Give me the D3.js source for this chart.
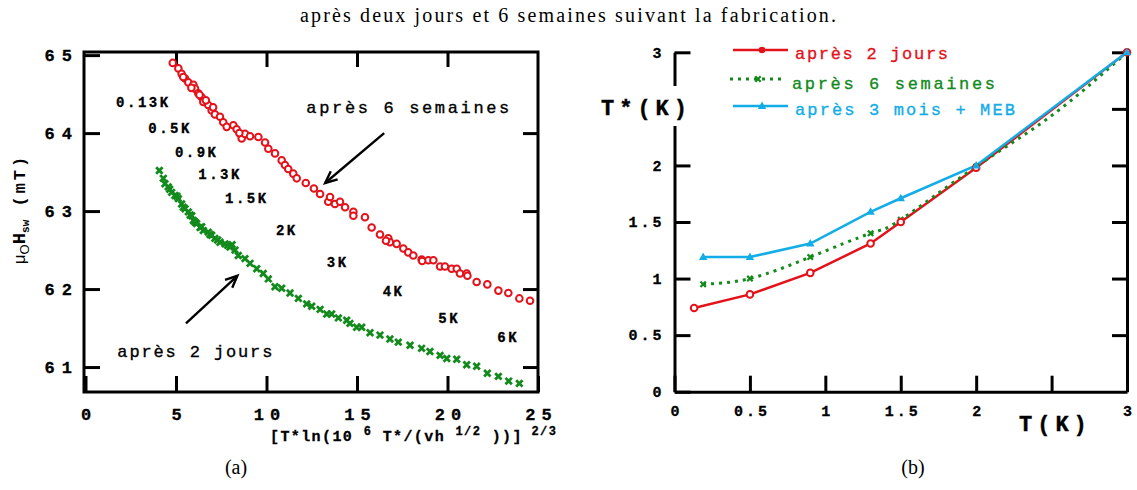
<!DOCTYPE html>
<html>
<head>
<meta charset="utf-8">
<script src="https://cdn.jsdelivr.net/npm/d3@7"></script>
<style>
  body { margin: 0; background: #fff; }
  svg { display: block; }
</style>
</head>
<body>
<svg id="fig" width="1137" height="490"></svg>
<script>
// ---------- Panel (a): switching field vs scaled temperature ----------
const sixWeeksX = [4.82, 5.13, 5.31, 5.50, 5.68, 5.96, 6.05, 6.23, 6.42, 6.51, 6.78, 6.97, 7.15, 7.43, 7.61, 7.80,
  8.17, 8.35, 8.63, 8.63, 8.81, 9.09, 9.55, 9.92, 10.10, 10.47, 10.84, 11.02, 11.20, 11.48, 11.67, 12.17, 12.62,
  12.96, 13.41, 13.51, 13.78, 14.06, 14.34, 14.80, 14.80, 15.44, 15.81, 16.27, 16.73, 16.82, 17.19, 17.56, 17.83,
  18.11, 18.57, 18.94, 19.22, 19.59, 19.86, 20.23, 20.51, 20.69, 21.06, 21.61, 22.20, 22.81, 23.36, 23.97, 24.56,
  5.40, 5.85, 6.30, 6.65, 7.05, 8.50, 16.60, 18.60, 21.10];
const sixWeeksY = [64.90, 64.83, 64.76, 64.70, 64.65, 64.62, 64.57, 64.51, 64.46, 64.40, 64.36, 64.29, 64.24, 64.21, 64.14, 64.08,
  64.10, 64.05, 63.97, 63.93, 63.99, 63.96, 63.95, 63.88, 63.80, 63.74, 63.65, 63.59, 63.54, 63.48, 63.42, 63.36, 63.29,
  63.22, 63.12, 63.18, 63.09, 63.12, 63.05, 62.99, 62.94, 62.92, 62.79, 62.70, 62.65, 62.60, 62.58, 62.52, 62.47,
  62.43, 62.38, 62.37, 62.37, 62.29, 62.29, 62.26, 62.26, 62.20, 62.20, 62.09, 62.06, 61.98, 61.95, 61.88, 61.85,
  64.72, 64.58, 64.49, 64.42, 64.33, 64.00, 62.62, 62.36, 62.17];

const twoDaysX = [4.08, 4.30, 4.39, 4.57, 4.76, 4.94, 5.13, 5.31, 5.50, 5.68, 5.87, 5.96, 6.14, 6.33, 6.51, 6.78, 6.97,
  7.15, 7.43, 7.71, 7.98, 8.26, 8.44, 8.81, 9.09, 9.46, 9.82, 10.10, 10.47, 10.84, 11.30, 11.76, 12.22, 12.50, 12.96,
  13.33, 13.60, 13.97, 14.43, 14.61, 14.98, 15.26, 15.72, 16.27, 16.82, 17.28, 17.93, 18.57, 19.03, 19.59, 19.96,
  20.51, 21.06, 21.61, 22.20, 22.81, 23.38, 23.97,
  4.65, 5.05, 5.40, 5.78, 6.05, 6.42, 6.88, 7.30, 7.85, 8.10];
const twoDaysY = [63.52, 63.42, 63.35, 63.31, 63.24, 63.20, 63.16, 63.09, 63.03, 62.99, 62.94, 62.88, 62.84, 62.79, 62.75, 62.73, 62.69,
  62.65, 62.60, 62.58, 62.54, 62.50, 62.43, 62.39, 62.33, 62.26, 62.20, 62.13, 62.03, 62.01, 61.95, 61.88, 61.81, 61.78, 61.74,
  61.68, 61.68, 61.63, 61.60, 61.56, 61.51, 61.51, 61.44, 61.41, 61.36, 61.32, 61.28, 61.24, 61.20, 61.15, 61.11,
  61.10, 61.03, 61.01, 60.92, 60.88, 60.82, 60.79,
  63.28, 63.19, 63.05, 62.95, 62.86, 62.80, 62.70, 62.63, 62.56, 62.57];

const tempLabels = ["0.13K", "0.5K", "0.9K", "1.3K", "1.5K", "2K", "3K", "4K", "5K", "6K"];
const tempLabelX = [1.69, 3.47, 4.94, 6.23, 7.71, 10.52, 13.33, 16.42, 19.49, 22.75];
const tempLabelY = [64.40, 64.06, 63.75, 63.47, 63.17, 62.76, 62.35, 61.97, 61.63, 61.39];

const aTicksX = [0, 5, 10, 15, 20, 25];
const aTicksY = [61, 62, 63, 64, 65];

// ---------- Panel (b): T* vs T ----------
const bNames = ["après 2 jours", "après 6 semaines", "après 3 mois + MEB"];
const bTwoDaysT = [0.13, 0.5, 0.9, 1.3, 1.5, 2, 3];
const bTwoDaysTs = [0.74, 0.86, 1.05, 1.31, 1.50, 1.98, 3];
const bSixWeeksT = [0.19, 0.5, 0.9, 1.3, 1.5, 2, 2.5, 3];
const bSixWeeksTs = [0.95, 1.00, 1.19, 1.40, 1.52, 1.99, 2.44, 3];
const bSixWeeksMarked = [true, true, true, true, true, true, false, true];
const bThreeMonthsT = [0.19, 0.5, 0.9, 1.3, 1.5, 2, 3];
const bThreeMonthsTs = [1.19, 1.19, 1.31, 1.59, 1.71, 2.00, 3];
const bTicks = [0, 0.5, 1, 1.5, 2, 2.5, 3];

// ---------- drawing ----------
const RED = "#e3121b", GREEN = "#138a1c", BLUE = "#12ade6";
const MONO = "'Liberation Mono', 'DejaVu Sans Mono', monospace";
const SERIF = "'Liberation Serif', 'Times New Roman', serif";

const svg = d3.select("#fig");

svg.append("text")
  .attr("x", 568).attr("y", 22)
  .attr("text-anchor", "middle")
  .attr("font-family", SERIF).attr("font-size", 20)
  .attr("textLength", 536).attr("lengthAdjust", "spacing")
  .text("après deux jours et 6 semaines suivant la fabrication.");

function styleAxis(g, fontSize, spacing) {
  g.selectAll(".tick line").attr("stroke", "#000").attr("stroke-width", 3);
  g.selectAll(".domain").attr("stroke", "#000").attr("stroke-width", 3);
  g.selectAll(".tick text")
    .attr("fill", "#000")
    .attr("font-family", MONO).attr("font-weight", "bold")
    .attr("font-size", fontSize)
    .attr("stroke", "#000").attr("stroke-width", 0.3)
    .style("letter-spacing", spacing + "px");
}

// ----- panel (a) -----
const xA = d3.scaleLinear().domain([0, 25]).range([85.5, 538]);
const yA = d3.scaleLinear().domain([60.68, 65.04]).range([392, 52]);
const gA = svg.append("g");

gA.append("rect")
  .attr("x", 84).attr("y", yA(65.04)).attr("width", 538 - 84).attr("height", yA(60.68) - yA(65.04))
  .attr("fill", "none").attr("stroke", "#000").attr("stroke-width", 3);

gA.append("g").attr("transform", `translate(0,${yA(60.68)})`)
  .call(d3.axisBottom(xA).tickValues(aTicksX).tickSizeInner(-16).tickSizeOuter(0).tickPadding(16).tickFormat(d3.format("d")))
  .call(g => g.select(".domain").remove())
  .call(g => styleAxis(g, 17, 6))
  .call(g => g.selectAll(".tick text").attr("dx", 3));

gA.append("g").attr("transform", `translate(0,${yA(65.04)})`)
  .call(d3.axisTop(xA).tickValues(aTicksX.slice(1, -1)).tickSizeInner(-15).tickSizeOuter(0).tickFormat(""))
  .call(g => g.select(".domain").remove())
  .call(g => styleAxis(g, 17, 6));

gA.append("g").attr("transform", "translate(84,0)")
  .call(d3.axisLeft(yA).tickValues(aTicksY).tickSizeInner(-16).tickSizeOuter(0).tickPadding(5).tickFormat(d3.format("d")))
  .call(g => g.select(".domain").remove())
  .call(g => styleAxis(g, 17, 7));

gA.append("g").attr("transform", "translate(538,0)")
  .call(d3.axisRight(yA).tickValues(aTicksY.slice(0, -1)).tickSizeInner(-15).tickSizeOuter(0).tickFormat(""))
  .call(g => g.select(".domain").remove())
  .call(g => styleAxis(g, 17, 6));

// measured points
const crossPath = "M-3.2,-3.2L3.2,3.2M-3.2,3.2L3.2,-3.2";
gA.append("g").selectAll("path").data(d3.range(twoDaysX.length)).join("path")
  .attr("transform", i => `translate(${xA(twoDaysX[i])},${yA(twoDaysY[i])})`)
  .attr("d", crossPath)
  .attr("stroke", GREEN).attr("stroke-width", 2.8).attr("fill", "none");

gA.append("g").selectAll("circle").data(d3.range(sixWeeksX.length)).join("circle")
  .attr("cx", i => xA(sixWeeksX[i])).attr("cy", i => yA(sixWeeksY[i]))
  .attr("r", 3.3).attr("fill", "#fff").attr("stroke", RED).attr("stroke-width", 2);

// temperature annotations
gA.append("g").selectAll("text").data(tempLabels).join("text")
  .attr("x", (d, i) => xA(tempLabelX[i])).attr("y", (d, i) => yA(tempLabelY[i]))
  .attr("dy", "0.35em")
  .attr("font-family", MONO).attr("font-weight", "bold").attr("font-size", 14)
  .attr("stroke", "#000").attr("stroke-width", 0.3)
  .style("letter-spacing", "2.5px")
  .text(d => d);

// series annotations with arrows
function arrow(g, x1, y1, x2, y2) {
  g.append("line").attr("x1", x1).attr("y1", y1).attr("x2", x2).attr("y2", y2)
    .attr("stroke", "#000").attr("stroke-width", 2.4);
  const a = Math.atan2(y2 - y1, x2 - x1), L = 13, w = 0.42;
  const p1 = [x2 - L * Math.cos(a - w), y2 - L * Math.sin(a - w)];
  const p2 = [x2 - L * Math.cos(a + w), y2 - L * Math.sin(a + w)];
  g.append("path").attr("d", `M${p1}L${x2},${y2}L${p2}`)
    .attr("fill", "none").attr("stroke", "#000").attr("stroke-width", 2.4);
}

gA.append("text")
  .attr("x", xA(12.2)).attr("y", yA(64.33)).attr("dy", "0.35em")
  .attr("font-family", MONO).attr("font-size", 17)
  .attr("stroke", "#000").attr("stroke-width", 0.35)
  .attr("textLength", 203).attr("lengthAdjust", "spacing")
  .text(bNames[1]);
arrow(gA, xA(16.5), yA(64.0), xA(13.24), yA(63.36));

gA.append("text")
  .attr("x", xA(1.76)).attr("y", yA(61.21)).attr("dy", "0.35em")
  .attr("font-family", MONO).attr("font-size", 17)
  .attr("stroke", "#000").attr("stroke-width", 0.35)
  .attr("textLength", 155).attr("lengthAdjust", "spacing")
  .text(bNames[0]);
arrow(gA, xA(5.55), yA(61.56), xA(8.39), yA(62.17));

// axis titles
const yTitle = svg.append("text")
  .attr("transform", "translate(25,209) rotate(-90)")
  .attr("text-anchor", "middle")
  .attr("font-size", 17).attr("fill", "#000");
yTitle.append("tspan").attr("font-family", "'Liberation Sans', Arial, sans-serif").text("μ");
yTitle.append("tspan").attr("font-family", "'Liberation Sans', Arial, sans-serif").attr("font-size", 13).attr("dy", 4).text("O");
yTitle.append("tspan").attr("font-family", MONO).attr("font-weight", "bold").attr("font-size", 19).attr("dy", -4).text("H");
yTitle.append("tspan").attr("font-family", MONO).attr("font-weight", "bold").attr("font-size", 11).attr("dy", 4).text("sw");
yTitle.append("tspan").attr("font-family", MONO).attr("font-weight", "bold").attr("dy", -4)
  .style("letter-spacing", "3px").text(" (mT)");

const xTitle = svg.append("text")
  .attr("x", 270).attr("y", 441)
  .attr("font-family", MONO).attr("font-weight", "bold").attr("font-size", 15).attr("fill", "#000")
  .attr("stroke", "#000").attr("stroke-width", 0.3)
  .style("letter-spacing", "1.4px");
xTitle.append("tspan").text("[T*ln(10 ");
xTitle.append("tspan").attr("font-size", 12).attr("dy", -6).text("6");
xTitle.append("tspan").attr("dy", 6).text(" T*/(vh ");
xTitle.append("tspan").attr("font-size", 12).attr("dy", -6).text("1/2");
xTitle.append("tspan").attr("dy", 6).text(" ))]");
xTitle.append("tspan").attr("font-size", 12).attr("dy", -6).text(" 2/3");

svg.append("text").attr("x", 236).attr("y", 474).attr("text-anchor", "middle")
  .attr("font-family", SERIF).attr("font-size", 20).text("(a)");

// ----- panel (b) -----
const xB = d3.scaleLinear().domain([0, 3]).range([674.5, 1127]);
const yB = d3.scaleLinear().domain([0, 3]).range([391.7, 52.3]);
const gB = svg.append("g");
const fmtB = d => (d === 2.5 ? "" : String(d));

gB.append("g").attr("transform", `translate(0,${yB(0)})`)
  .call(d3.axisBottom(xB).tickValues(bTicks).tickSizeInner(-16).tickSizeOuter(0).tickPadding(14).tickFormat(fmtB))
  .call(g => styleAxis(g, 15, 3))
  .call(g => g.selectAll(".tick text").attr("dx", 1.5));

gB.append("g").attr("transform", `translate(${xB(0)},0)`)
  .call(d3.axisLeft(yB).tickValues(bTicks).tickSizeInner(-16).tickSizeOuter(0).tickPadding(10).tickFormat(fmtB))
  .call(g => styleAxis(g, 15, 3));

gB.append("g").attr("transform", `translate(${xB(3)},0)`)
  .call(d3.axisRight(yB).tickValues(bTicks.slice(1)).tickSizeInner(-15).tickSizeOuter(0).tickFormat(""))
  .call(g => styleAxis(g, 15, 3));

// axis names (the T* label sits on a white patch over the axis)
gB.append("rect").attr("x", 598).attr("y", 86).attr("width", 94).attr("height", 40).attr("fill", "#fff");
gB.append("text").attr("x", 601).attr("y", 107).attr("dy", "0.35em")
  .attr("font-family", MONO).attr("font-weight", "bold").attr("font-size", 22)
  .attr("stroke", "#000").attr("stroke-width", 0.4)
  .style("letter-spacing", "5px").text("T*(K)");
gB.append("text").attr("x", 1019).attr("y", 423).attr("dy", "0.35em")
  .attr("font-family", MONO).attr("font-weight", "bold").attr("font-size", 22)
  .attr("stroke", "#000").attr("stroke-width", 0.4)
  .style("letter-spacing", "5px").text("T(K)");

const lineLinear = d3.line().x(d => xB(d[0])).y(d => yB(d[1]));
const lineSmooth = d3.line().x(d => xB(d[0])).y(d => yB(d[1])).curve(d3.curveNatural);

const twoDaysPts = bTwoDaysT.map((t, i) => [t, bTwoDaysTs[i]]);
const sixWeeksPts = bSixWeeksT.map((t, i) => [t, bSixWeeksTs[i]]);
const threeMonthsPts = bThreeMonthsT.map((t, i) => [t, bThreeMonthsTs[i]]);

const triPath = "M0,-4.5L4.2,3L-4.2,3Z";
const smallCross = "M-2.7,-2.7L2.7,2.7M-2.7,2.7L2.7,-2.7";

gB.append("path").attr("d", lineLinear(twoDaysPts))
  .attr("fill", "none").attr("stroke", RED).attr("stroke-width", 2.5);
gB.append("path").attr("d", lineSmooth(sixWeeksPts))
  .attr("fill", "none").attr("stroke", GREEN).attr("stroke-width", 3).attr("stroke-dasharray", "3,5");
gB.append("path").attr("d", lineLinear(threeMonthsPts))
  .attr("fill", "none").attr("stroke", BLUE).attr("stroke-width", 2.5);

gB.append("g").selectAll("path").data(sixWeeksPts.filter((d, i) => bSixWeeksMarked[i])).join("path")
  .attr("transform", d => `translate(${xB(d[0])},${yB(d[1])})`)
  .attr("d", smallCross)
  .attr("stroke", GREEN).attr("stroke-width", 2.2);
gB.append("g").selectAll("circle").data(twoDaysPts).join("circle")
  .attr("cx", d => xB(d[0])).attr("cy", d => yB(d[1])).attr("r", 3.3)
  .attr("fill", "#fff").attr("stroke", RED).attr("stroke-width", 2);
gB.append("g").selectAll("path").data(threeMonthsPts).join("path")
  .attr("transform", d => `translate(${xB(d[0])},${yB(d[1])})`)
  .attr("d", triPath).attr("fill", BLUE);

// legend
const legend = gB.append("g");
const legRows = [
  { y: 50, color: RED, dash: null, text: bNames[0], len: 153, tx: 795, ty: 53 },
  { y: 79, color: GREEN, dash: "3,5", text: bNames[1], len: 203, tx: 792, ty: 83 },
  { y: 106, color: BLUE, dash: null, text: bNames[2], len: 220, tx: 795, ty: 109 }
];
legRows.forEach((r, i) => {
  legend.append("line").attr("x1", i === 1 ? 730 : 733).attr("x2", i === 1 ? 784 : 788)
    .attr("y1", r.y).attr("y2", r.y)
    .attr("stroke", r.color).attr("stroke-width", i === 1 ? 3 : 2.5)
    .attr("stroke-dasharray", r.dash);
  const mx = i === 1 ? 758 : 762;
  if (i === 0) legend.append("circle").attr("cx", mx).attr("cy", r.y).attr("r", 3.3).attr("fill", RED);
  if (i === 1) legend.append("path").attr("transform", `translate(${mx},${r.y})`)
    .attr("d", smallCross).attr("stroke", GREEN).attr("stroke-width", 2.2);
  if (i === 2) legend.append("path").attr("transform", `translate(${mx},${r.y})`).attr("d", triPath).attr("fill", BLUE);
  legend.append("text").attr("x", r.tx).attr("y", r.ty).attr("dy", "0.35em")
    .attr("font-family", MONO).attr("font-size", 17).attr("fill", r.color)
    .attr("stroke", r.color).attr("stroke-width", 0.35)
    .attr("textLength", r.len).attr("lengthAdjust", "spacing")
    .text(r.text);
});

svg.append("text").attr("x", 913).attr("y", 474).attr("text-anchor", "middle")
  .attr("font-family", SERIF).attr("font-size", 20).text("(b)");
</script>
</body>
</html>
